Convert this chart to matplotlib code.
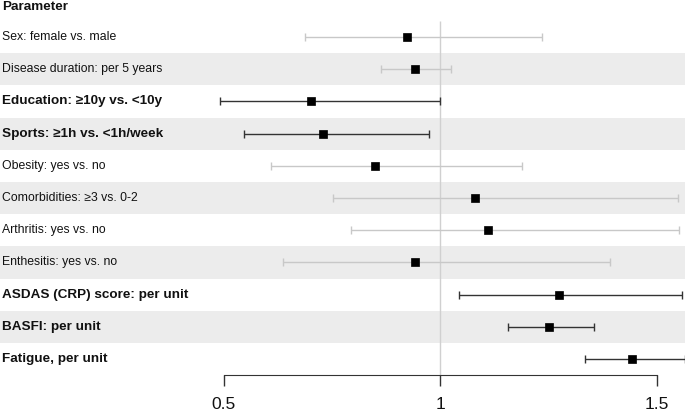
import matplotlib.pyplot as plt

plt.rcParams['font.family'] = ['Liberation Sans', 'DejaVu Sans']

# ---- data ----
labels = [
    "Sex: female vs. male",
    "Disease duration: per 5 years",
    "Education: \u226510y vs. <10y",
    "Sports: \u22651h vs. <1h/week",
    "Obesity: yes vs. no",
    "Comorbidities: \u22653 vs. 0-2",
    "Arthritis: yes vs. no",
    "Enthesitis: yes vs. no",
    "ASDAS (CRP) score: per unit",
    "BASFI: per unit",
    "Fatigue, per unit",
]
estimate = [0.922, 0.941, 0.701, 0.728, 0.850, 1.079, 1.109, 0.941, 1.274, 1.251, 1.442]
ci_low = [0.687, 0.864, 0.492, 0.546, 0.609, 0.752, 0.793, 0.636, 1.042, 1.157, 1.333]
ci_high = [1.235, 1.024, 1.000, 0.973, 1.189, 1.548, 1.550, 1.392, 1.558, 1.354, 1.565]
significant = [False, False, True, True, False, False, False, False, True, True, True]
xticks = [0.5, 1, 1.5]
xticklabels = ["0.5", "1", "1.5"]

fig = plt.figure(figsize=(6.85, 4.16), dpi=100)
ax = fig.add_axes([0, 0, 1, 1])
ax.set_xlim(-0.017, 1.565)
ax.set_ylim(11.77, -1.149)

# striped background
for i in range(len(labels)):
    if i % 2 == 1:
        ax.axhspan(i - 0.5, i + 0.5, color="#ececec", lw=0, zorder=0)

# reference line
ax.vlines(1, -0.5, 10.5, color="#d0d0d0", lw=1, zorder=1)

for i, lab in enumerate(labels):
    col = "#333333" if significant[i] else "#c8c8c8"
    ax.errorbar(estimate[i], i,
                xerr=[[estimate[i] - ci_low[i]], [ci_high[i] - estimate[i]]],
                fmt="none", ecolor=col, elinewidth=1, capsize=3, capthick=1,
                zorder=2, clip_on=False)
    ax.plot(estimate[i], i, marker="s", ms=6.3, mew=0.5, color="black",
            ls="none", zorder=3)
    if significant[i]:
        ax.text(0.003, i, lab, transform=ax.get_yaxis_transform(),
                ha="left", va="center", fontsize=9.7, fontweight="bold",
                color="#111111")
    else:
        ax.text(0.003, i, lab, transform=ax.get_yaxis_transform(),
                ha="left", va="center", fontsize=8.8, color="#111111")

ax.text(0.003, -0.92, "Parameter", transform=ax.get_yaxis_transform(),
        ha="left", va="center", fontsize=9.7, fontweight="bold", color="#111111")

# x axis drawn at 10.5, only between 0.5 and 1.5
for s in ["top", "right", "left"]:
    ax.spines[s].set_visible(False)
ax.spines["bottom"].set_position(("data", 10.5))
ax.spines["bottom"].set_bounds(0.5, 1.5)
ax.spines["bottom"].set_color("#333333")
ax.set_xticks(xticks)
ax.set_xticklabels(xticklabels, fontsize=12.5, color="#111111")
ax.tick_params(axis="x", direction="out", length=8, width=1, color="#333333", pad=8)
ax.set_yticks([])

fig.savefig("out.png", dpi=100)
